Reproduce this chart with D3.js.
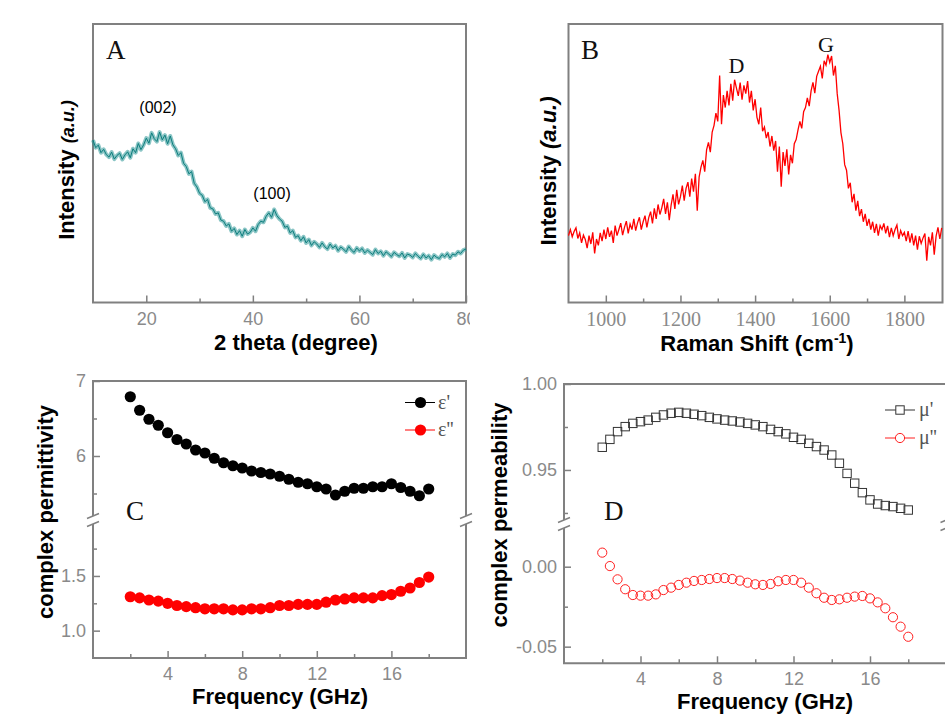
<!DOCTYPE html>
<html>
<head>
<meta charset="utf-8">
<script src="https://cdn.jsdelivr.net/npm/d3@7/dist/d3.min.js"></script>
<style>
  body { margin: 0; background: #ffffff; }
</style>
</head>
<body>
<div id="figure"></div>
<script>
// 1. Data
// XRD pattern, 2 theta from 10 to 80 deg in 0.5 deg steps (intensity in a.u.)
var xrdStart = 10, xrdStep = 0.5;
var xrdIntensity = [
  583, 556, 565, 538, 550, 531, 522, 540, 515, 528,
  536, 514, 530, 541, 520, 552, 538, 571, 549, 566,
  590, 572, 609, 588, 578, 612, 584, 601, 570, 598,
  566, 552, 528, 538, 500, 488, 462, 470, 428, 415,
  392, 385, 362, 370, 340, 336, 318, 322, 296, 292,
  275, 282, 256, 266, 244, 258, 238, 262, 246, 252,
  268, 256, 280, 292, 288, 310, 322, 306, 334, 312,
  300, 292, 270, 274, 250, 258, 234, 240, 222, 236,
  214, 226, 205, 218, 210, 198, 214, 200, 192, 210,
  196, 204, 186, 199, 192, 182, 201, 188, 180, 196,
  185, 194, 178, 188, 180, 172, 190, 176, 184, 168,
  182, 174, 165, 180, 172, 166, 178, 160, 174, 170,
  162, 176, 166, 158, 173, 160, 168, 154, 170, 162,
  158, 172, 164, 176, 160, 174, 170, 182, 176, 188,
  192
];
var xrdPeaks = [
  {label: "(002)", theta: 22.2, level: 680},
  {label: "(100)", theta: 43.6, level: 372}
];
var xrdTicks = [20, 40, 60, 80];
var xrdMinor = [30, 50, 70];

// Raman spectrum, 900 to 1900 cm-1 in 5 cm-1 steps
var ramanStart = 900, ramanStep = 5;
var ramanIntensity = [
  240, 262, 236, 255, 268, 230, 250, 214, 242, 226,
  195, 240, 210, 252, 176, 228, 205, 250, 220, 262,
  228, 270, 236, 258, 214, 276, 240, 262, 285, 242,
  270, 292, 248, 282, 262, 300, 258, 286, 306, 262,
  290, 312, 270, 305, 326, 284, 338, 300, 352, 316,
  340, 372, 318, 360, 296, 350, 388, 336, 405, 352,
  380, 420, 366, 410, 432, 380, 445, 398, 462, 330,
  450, 486, 510, 470, 548, 575, 540, 612, 636, 680,
  650, 815, 640, 745, 700, 760, 708, 785, 725, 800,
  770, 742, 790, 728, 780, 750, 795, 718, 760, 690,
  730, 665, 640, 700, 615, 630, 590, 612, 560, 598,
  545, 580, 470, 560, 416, 540, 490, 550, 460, 530,
  500, 570, 585, 620, 650, 625, 685, 700, 735, 705,
  760, 790, 752, 812, 830, 848, 805, 868, 852, 890,
  862, 885, 815, 850, 750, 690, 610, 570, 495, 475,
  410, 430, 360, 390, 330, 365, 310, 335, 290, 318,
  275, 300, 262, 290, 250, 282, 240, 276, 262, 284,
  248, 275, 235, 268, 240, 262, 278, 228, 258, 240,
  252, 220, 256, 215, 248, 205, 240, 190, 238, 212,
  232, 248, 150, 236, 205, 252, 172, 238, 270, 228,
  268
];
var ramanPeaks = [
  {label: "D", shift: 1350, level: 825},
  {label: "G", shift: 1590, level: 900}
];
var ramanTicks = [1000, 1200, 1400, 1600, 1800];
var ramanMinor = [1100, 1300, 1500, 1700];

// Complex permittivity vs frequency
var freqEps = [2, 2.5, 3, 3.5, 4, 4.5, 5, 5.5, 6, 6.5, 7, 7.5, 8, 8.5, 9, 9.5, 10,
  10.5, 11, 11.5, 12, 12.5, 13, 13.5, 14, 14.5, 15, 15.5, 16, 16.5, 17, 17.5, 18];
var epsReal = [6.79, 6.61, 6.49, 6.41, 6.31, 6.22, 6.16, 6.08, 6.04, 5.97, 5.91, 5.87,
  5.84, 5.80, 5.78, 5.76, 5.73, 5.69, 5.65, 5.63, 5.59, 5.56, 5.48, 5.53, 5.57, 5.57,
  5.59, 5.59, 5.63, 5.58, 5.53, 5.47, 5.56];
var epsImag = [1.31, 1.30, 1.28, 1.27, 1.25, 1.23, 1.22, 1.21, 1.20, 1.20, 1.20, 1.19,
  1.19, 1.20, 1.20, 1.21, 1.23, 1.23, 1.24, 1.24, 1.24, 1.26, 1.28, 1.29, 1.30, 1.30,
  1.30, 1.32, 1.33, 1.36, 1.39, 1.44, 1.49];
var epsUpperTicks = [6, 7], epsUpperMinor = [5.5, 6.5];
var epsLowerTicks = [1.0, 1.5], epsLowerMinor = [1.25, 1.75];

// Complex permeability vs frequency
var freqMu = [2, 2.4, 2.8, 3.2, 3.6, 4, 4.4, 4.8, 5.2, 5.6, 6, 6.4, 6.8, 7.2, 7.6, 8,
  8.4, 8.8, 9.2, 9.6, 10, 10.4, 10.8, 11.2, 11.6, 12, 12.4, 12.8, 13.2, 13.6, 14, 14.4,
  14.8, 15.2, 15.6, 16, 16.4, 16.8, 17.2, 17.6, 18];
var muReal = [0.9632, 0.9678, 0.9723, 0.9752, 0.9771, 0.9781, 0.9790, 0.9806, 0.9820,
  0.9830, 0.9835, 0.9830, 0.9824, 0.9816, 0.9806, 0.9797, 0.9790, 0.9785, 0.9779,
  0.9771, 0.9762, 0.9752, 0.9736, 0.9723, 0.9710, 0.9690, 0.9678, 0.9655, 0.9636,
  0.9616, 0.9587, 0.9539, 0.9480, 0.9423, 0.9368, 0.9326, 0.9302, 0.9293, 0.9287,
  0.9277, 0.9267];
var muImag = [0.0088, 0.0004, -0.0079, -0.0141, -0.0177, -0.0181, -0.0181, -0.0173,
  -0.0146, -0.0131, -0.0114, -0.0100, -0.0089, -0.0083, -0.0077, -0.0071, -0.0071,
  -0.0077, -0.0087, -0.0100, -0.0110, -0.0114, -0.0108, -0.0091, -0.0083, -0.0083,
  -0.0100, -0.0131, -0.0166, -0.0194, -0.0208, -0.0204, -0.0194, -0.0187, -0.0183,
  -0.0198, -0.0223, -0.0260, -0.0316, -0.0375, -0.0438];
var muUpperTicks = [0.95, 1.00], muUpperMinor = [0.925, 0.975];
var muLowerTicks = [-0.05, 0.00], muLowerMinor = [-0.025];

var freqTicks = [4, 8, 12, 16];
var freqMinor = [2, 6, 10, 14, 18];

// 2. Figure setup
var frameColor = "#808080";
var tickColor = "#8a8a8a";
var sans = "'Liberation Sans', Arial, sans-serif";
var serif = "'Liberation Serif', 'Times New Roman', serif";

var svg = d3.select("#figure")
  .append("svg")
  .attr("width", 945)
  .attr("height", 715);

svg.append("rect").attr("width", 945).attr("height", 715).attr("fill", "#ffffff");

var defs = svg.append("defs");
defs.append("clipPath").attr("id", "clipA")
  .append("rect").attr("x", 0).attr("y", 0).attr("width", 470).attr("height", 360);

// helper: ticks along a bottom axis, pointing inward
function xTicks(g, scale, y, majors, minors, font, size, pad) {
  var minor = g.append("g")
    .attr("transform", "translate(0," + y + ")")
    .call(d3.axisBottom(scale).tickValues(minors).tickSize(-4).tickFormat(""));
  minor.select(".domain").remove();
  minor.selectAll("line").attr("stroke", frameColor).attr("stroke-width", 1.5);

  var major = g.append("g")
    .attr("transform", "translate(0," + y + ")")
    .call(d3.axisBottom(scale).tickValues(majors).tickSize(-7).tickPadding(pad || 10)
      .tickFormat(function(d) { return String(d); }));
  major.select(".domain").remove();
  major.selectAll("line").attr("stroke", frameColor).attr("stroke-width", 1.5);
  major.selectAll("text")
    .attr("fill", tickColor)
    .style("font-family", font)
    .style("font-size", size + "px");
}

// helper: ticks along a left axis, pointing inward
function yTicks(g, scale, x, majors, minors, fmt) {
  var minor = g.append("g")
    .attr("transform", "translate(" + x + ",0)")
    .call(d3.axisLeft(scale).tickValues(minors).tickSize(-4).tickFormat(""));
  minor.select(".domain").remove();
  minor.selectAll("line").attr("stroke", frameColor).attr("stroke-width", 1.5);

  var major = g.append("g")
    .attr("transform", "translate(" + x + ",0)")
    .call(d3.axisLeft(scale).tickValues(majors).tickSize(-7).tickPadding(7).tickFormat(fmt));
  major.select(".domain").remove();
  major.selectAll("line").attr("stroke", frameColor).attr("stroke-width", 1.5);
  major.selectAll("text")
    .attr("fill", tickColor)
    .style("font-family", sans)
    .style("font-size", "18px");
}

function axisTitle(g, text, x, y, rotate) {
  return g.append("text")
    .attr("transform", "translate(" + x + "," + y + ")" + (rotate ? " rotate(-90)" : ""))
    .attr("text-anchor", "middle")
    .style("font-family", sans)
    .style("font-weight", "bold")
    .style("font-size", "22px")
    .attr("fill", "#000")
    .text(text);
}

function panelLetter(g, text, x, y) {
  g.append("text")
    .attr("x", x).attr("y", y)
    .style("font-family", serif)
    .style("font-size", "27px")
    .attr("fill", "#111")
    .text(text);
}

// frame with a broken left/right edge
function brokenFrame(g, x0, x1, y0, y1, gapTop, gapBot) {
  var p = d3.path();
  p.moveTo(x0, gapTop); p.lineTo(x0, y0); p.lineTo(x1, y0); p.lineTo(x1, gapTop);
  p.moveTo(x0, gapBot); p.lineTo(x0, y1); p.lineTo(x1, y1); p.lineTo(x1, gapBot);
  g.append("path").attr("d", p.toString())
    .attr("fill", "none").attr("stroke", frameColor).attr("stroke-width", 2);
  [x0, x1].forEach(function(x) {
    [gapTop, gapBot].forEach(function(yy) {
      g.append("line")
        .attr("x1", x - 6).attr("y1", yy + 2.5)
        .attr("x2", x + 6).attr("y2", yy - 2.5)
        .attr("stroke", frameColor).attr("stroke-width", 1.5);
    });
  });
}

// 3. Panel A - XRD
var gA = svg.append("g").attr("clip-path", "url(#clipA)");
var xA = d3.scaleLinear().domain([10, 80]).range([93, 466]);
var yA = d3.scaleLinear().domain([0, 1000]).range([302.5, 24]);

var xrdData = xrdIntensity.map(function(v, i) { return {x: xrdStart + i * xrdStep, y: v}; });
var xrdLine = d3.line().x(function(d) { return xA(d.x); }).y(function(d) { return yA(d.y); });

gA.append("rect")
  .attr("x", 93).attr("y", 24).attr("width", 373).attr("height", 278.5)
  .attr("fill", "none").attr("stroke", frameColor).attr("stroke-width", 2);

// soft band under the trace to mimic the dense noise
gA.append("path")
  .datum(xrdData)
  .attr("fill", "none")
  .attr("stroke", "#2a9696")
  .attr("stroke-opacity", 0.55)
  .attr("stroke-width", 4)
  .attr("stroke-linejoin", "round")
  .attr("d", xrdLine);

gA.append("path")
  .datum(xrdData)
  .attr("fill", "none")
  .attr("stroke", "#0c7d7d")
  .attr("stroke-width", 1)
  .attr("d", xrdLine);

xTicks(gA, xA, 302.5, xrdTicks, xrdMinor, sans, 18);

gA.selectAll("text.peak")
  .data(xrdPeaks)
  .enter()
  .append("text")
  .attr("class", "peak")
  .attr("x", function(d) { return xA(d.theta); })
  .attr("y", function(d) { return yA(d.level); })
  .attr("text-anchor", "middle")
  .style("font-family", sans)
  .style("font-size", "16px")
  .text(function(d) { return d.label; });

panelLetter(gA, "A", 106, 59);
axisTitle(gA, "2 theta (degree)", 296, 350, false);

var tA = gA.append("text")
  .attr("transform", "translate(74,170) rotate(-90)")
  .attr("text-anchor", "middle")
  .style("font-family", sans)
  .style("font-weight", "bold")
  .style("font-size", "22px");
tA.append("tspan").text("Intensity ");
tA.append("tspan").style("font-style", "italic").style("font-size", "18px").text("(a.u.)");

// Panel B - Raman
var gB = svg.append("g");
var xB = d3.scaleLinear().domain([900, 1900]).range([568.5, 941.7]);
var yB = d3.scaleLinear().domain([0, 1000]).range([302.5, 24]);

var ramanData = ramanIntensity.map(function(v, i) { return {x: ramanStart + i * ramanStep, y: v}; });

gB.append("rect")
  .attr("x", 568.5).attr("y", 24).attr("width", 374).attr("height", 278.5)
  .attr("fill", "none").attr("stroke", frameColor).attr("stroke-width", 2);

gB.append("path")
  .datum(ramanData)
  .attr("fill", "none")
  .attr("stroke", "#ff0000")
  .attr("stroke-width", 1.3)
  .attr("d", d3.line().x(function(d) { return xB(d.x); }).y(function(d) { return yB(d.y); }));

xTicks(gB, xB, 302.5, ramanTicks, ramanMinor, serif, 20, 9);

gB.selectAll("text.peak")
  .data(ramanPeaks)
  .enter()
  .append("text")
  .attr("class", "peak")
  .attr("x", function(d) { return xB(d.shift); })
  .attr("y", function(d) { return yB(d.level); })
  .attr("text-anchor", "middle")
  .style("font-family", serif)
  .style("font-size", "22px")
  .attr("fill", "#111")
  .text(function(d) { return d.label; });

panelLetter(gB, "B", 581, 59);

var xtB = axisTitle(gB, "", 757, 351, false);
xtB.append("tspan").text("Raman Shift (cm");
xtB.append("tspan").attr("dy", -8).style("font-size", "14px").text("-1");
xtB.append("tspan").attr("dy", 8).text(")");

var tB = gB.append("text")
  .attr("transform", "translate(556,171) rotate(-90)")
  .attr("text-anchor", "middle")
  .style("font-family", sans)
  .style("font-weight", "bold")
  .style("font-size", "22px");
tB.append("tspan").text("Intensity ");
tB.append("tspan").style("font-style", "italic").text("(a.u.)");

// Panel C - permittivity (broken y axis)
var gC = svg.append("g");
var xC = d3.scaleLinear().domain([0, 20]).range([93, 466]);
var yCup = d3.scaleLinear().domain([5.2, 7]).range([516, 381]);
var yClow = d3.scaleLinear().domain([0.75, 1.975]).range([658, 524]);

brokenFrame(gC, 93, 466, 381, 658, 516, 524);
xTicks(gC, xC, 658, freqTicks, freqMinor, sans, 18, 9);
yTicks(gC, yCup, 93, epsUpperTicks, epsUpperMinor, function(d) { return d; });
yTicks(gC, yClow, 93, epsLowerTicks, epsLowerMinor, function(d) { return d.toFixed(1); });

var epsRealData = freqEps.map(function(f, i) { return {x: f, y: epsReal[i]}; });
var epsImagData = freqEps.map(function(f, i) { return {x: f, y: epsImag[i]}; });

gC.selectAll("circle.er")
  .data(epsRealData)
  .enter()
  .append("circle")
  .attr("class", "er")
  .attr("cx", function(d) { return xC(d.x); })
  .attr("cy", function(d) { return yCup(d.y); })
  .attr("r", 5.6)
  .attr("fill", "#000");

gC.selectAll("circle.ei")
  .data(epsImagData)
  .enter()
  .append("circle")
  .attr("class", "ei")
  .attr("cx", function(d) { return xC(d.x); })
  .attr("cy", function(d) { return yClow(d.y); })
  .attr("r", 5.6)
  .attr("fill", "#ff0000");

// legend C
var legC = [
  {label: "\u03b5'", color: "#000", y: 402.5},
  {label: "\u03b5''", color: "#ff0000", y: 430}
];
legC.forEach(function(d) {
  gC.append("line").attr("x1", 405).attr("x2", 435).attr("y1", d.y).attr("y2", d.y)
    .attr("stroke", d.color).attr("stroke-width", 1);
  gC.append("circle").attr("cx", 420.5).attr("cy", d.y).attr("r", 5.6).attr("fill", d.color);
  gC.append("text").attr("x", 438).attr("y", d.y + 6)
    .style("font-family", serif).style("font-size", "20px").attr("fill", "#555")
    .text(d.label);
});

panelLetter(gC, "C", 126, 520);
axisTitle(gC, "Frequency (GHz)", 280, 704, false);
axisTitle(gC, "complex permittivity", 53, 512, true);

// Panel D - permeability (broken y axis)
var gD = svg.append("g");
var xD = d3.scaleLinear().domain([0, 20]).range([564, 946.5]);
var yDup = d3.scaleLinear().domain([0.9209, 1.0]).range([520, 384]);
var yDlow = d3.scaleLinear().domain([-0.0604, 0.0242]).range([663.3, 528]);

brokenFrame(gD, 564, 946.5, 384, 663.3, 520, 528);
xTicks(gD, xD, 663.3, freqTicks, freqMinor, sans, 18, 9);
yTicks(gD, yDup, 564, muUpperTicks, muUpperMinor, function(d) { return d.toFixed(2); });
yTicks(gD, yDlow, 564, muLowerTicks, muLowerMinor, function(d) { return d.toFixed(2); });

var muRealData = freqMu.map(function(f, i) { return {x: f, y: muReal[i]}; });
var muImagData = freqMu.map(function(f, i) { return {x: f, y: muImag[i]}; });

gD.selectAll("rect.mr")
  .data(muRealData)
  .enter()
  .append("rect")
  .attr("class", "mr")
  .attr("x", function(d) { return xD(d.x) - 4.2; })
  .attr("y", function(d) { return yDup(d.y) - 4.2; })
  .attr("width", 8.4).attr("height", 8.4)
  .attr("fill", "none")
  .attr("stroke", "#333").attr("stroke-width", 1);

gD.selectAll("circle.mi")
  .data(muImagData)
  .enter()
  .append("circle")
  .attr("class", "mi")
  .attr("cx", function(d) { return xD(d.x); })
  .attr("cy", function(d) { return yDlow(d.y); })
  .attr("r", 4.6)
  .attr("fill", "none")
  .attr("stroke", "#ff2020").attr("stroke-width", 1);

// legend D
gD.append("line").attr("x1", 885).attr("x2", 915).attr("y1", 410).attr("y2", 410)
  .attr("stroke", "#333").attr("stroke-width", 1);
gD.append("rect").attr("x", 895.8).attr("y", 405.8).attr("width", 8.4).attr("height", 8.4)
  .attr("fill", "#fff").attr("stroke", "#333").attr("stroke-width", 1);
gD.append("text").attr("x", 919).attr("y", 416)
  .style("font-family", serif).style("font-size", "20px").attr("fill", "#555").text("\u03bc'");
gD.append("line").attr("x1", 885).attr("x2", 915).attr("y1", 438).attr("y2", 438)
  .attr("stroke", "#ff2020").attr("stroke-width", 1);
gD.append("circle").attr("cx", 900).attr("cy", 438).attr("r", 4.6)
  .attr("fill", "#fff").attr("stroke", "#ff2020").attr("stroke-width", 1);
gD.append("text").attr("x", 919).attr("y", 444)
  .style("font-family", serif).style("font-size", "20px").attr("fill", "#555").text("\u03bc''");

panelLetter(gD, "D", 604, 520);
axisTitle(gD, "Frequency (GHz)", 765, 709, false);
axisTitle(gD, "complex permeability", 507, 515, true);
</script>
</body>
</html>
